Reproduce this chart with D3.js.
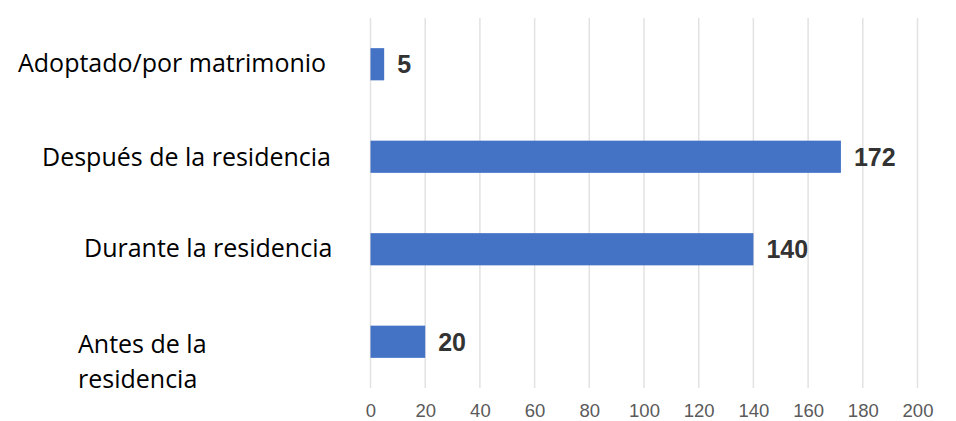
<!DOCTYPE html>
<html><head><meta charset="utf-8">
<script src="https://cdn.jsdelivr.net/npm/d3@7"></script>
<style>body{margin:0;background:#fff}</style>
</head><body>
<svg id="c" width="956" height="421"></svg>
<script>
const categories = ["Adoptado/por matrimonio", "Después de la residencia", "Durante la residencia", "Antes de la residencia"];
const values = [5, 172, 140, 20];
const tickValues = [0, 20, 40, 60, 80, 100, 120, 140, 160, 180, 200];

const svg = d3.select("#c");
const x = d3.scaleLinear().domain([0, 200]).range([370.5, 917.5]);
const y = d3.scaleBand().domain(categories).range([18, 388]).paddingInner(0.652).paddingOuter(0.326);

// gridlines
svg.append("g").selectAll("line").data(tickValues).join("line")
  .attr("x1", d => x(d)).attr("x2", d => x(d))
  .attr("y1", 18).attr("y2", 388)
  .attr("stroke", "#e2e2e2").attr("stroke-width", 1.5);

// axis labels
const ax = d3.axisBottom(x).tickValues(tickValues).tickSize(0).tickPadding(0);
const g = svg.append("g").attr("transform", "translate(0,405)").call(ax);
g.select(".domain").remove();
g.selectAll("text").attr("font-family", "Liberation Sans, Arial, sans-serif")
  .attr("font-size", 18.5).attr("fill", "#5a5a5a").attr("dy", "0.32em").attr("y", 6);

// bars
svg.append("g").selectAll("rect").data(values).join("rect")
  .attr("x", x(0)).attr("y", (d, i) => y(categories[i]))
  .attr("width", d => x(d) - x(0)).attr("height", y.bandwidth())
  .attr("fill", "#4472c4");

// value labels
svg.append("g").selectAll("text").data(values).join("text")
  .attr("x", d => x(d) + 13).attr("y", (d, i) => y(categories[i]) + y.bandwidth() / 2)
  .attr("dy", "0.36em")
  .attr("font-family", "Liberation Sans, Arial, sans-serif").attr("font-weight", "bold")
  .attr("font-size", 25).attr("fill", "#333")
  .text(d => d);

// category labels
const labelPos = [
  {x: 18, lines: ["Adoptado/por matrimonio"], dy: -1},
  {x: 42, lines: ["Después de la residencia"], dy: 0},
  {x: 84, lines: ["Durante la residencia"], dy: -1},
  {x: 78, lines: ["Antes de la", "residencia"], dy: 20}
];
const lg = svg.append("g");
categories.forEach((c, i) => {
  const p = labelPos[i];
  const cy = y(c) + y.bandwidth() / 2 + p.dy;
  const n = p.lines.length;
  p.lines.forEach((ln, j) => {
    lg.append("text").attr("x", p.x).attr("y", cy + (j - (n - 1) / 2) * 35)
      .attr("dy", "0.35em")
      .attr("font-family", "Open Sans, sans-serif").attr("font-size", 25)
      .attr("fill", "#000").text(ln);
  });
});
</script>
</body></html>
